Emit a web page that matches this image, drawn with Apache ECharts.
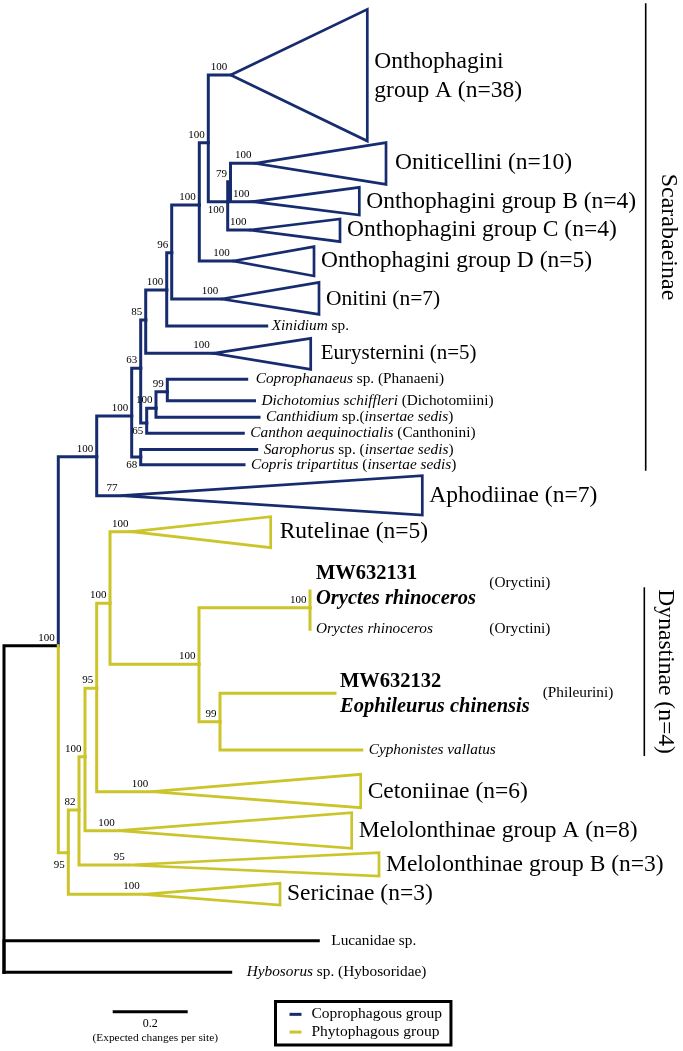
<!DOCTYPE html>
<html><head><meta charset="utf-8">
<script src="https://cdn.jsdelivr.net/npm/echarts@6/dist/echarts.min.js"></script>
<style>html,body{margin:0;padding:0;background:#fff}#c{width:683px;height:1051px}</style>
</head><body><div id="c"></div>
<script>
// ---------------- DATA ----------------
// tree nodes: index = position in each array
const nodeName = ['root','ingroup','Lucanidae sp.','Hybosorus sp.','Scarabaeinae+Aphodiinae','Scarabaeinae','Aphodiinae',
  'n63','n68','n85','n65','n100a','Eurysternini','n96','Xinidium sp.','n100b','Onitini','n100c','Onthophagini D',
  'Onthophagini A','n100d','n79','Onthophagini C','Oniticellini','Onthophagini B','n100e','Canthon aequinoctialis','n99',
  'Canthidium sp.','Coprophanaeus sp.','Dichotomius schiffleri','Sarophorus sp.','Copris tripartitus',
  'n95','n82','Sericinae','n100f','Melolonthinae B','n95b','Melolonthinae A','n100g','Cetoniinae','Rutelinae',
  'Dynastinae','Oryctes','n99b','MW632131','Oryctes rhinoceros','MW632132','Cyphonistes vallatus'];
const nodeParent = [-1,0,0,0,1,4,4, 5,5,7,7,9,9,11,11,13,13,15,15, 17,17,20,20,21,21,10,10,25, 25,27,27,8,8,
  1,33,33,34,34,36,36,38,38,40, 40,43,43,44,44,45,45];
// distance from root (expected changes per site)
const nodeDepth = [0,0.1448,0.8381,0.6045,0.2472,0.3405,0.312, 0.3645,0.3645,0.3779,0.3805,0.4339,0.5581,0.4472,0.7005,0.5208,0.5805,0.5448,0.6115,
  0.6045,0.5965,0.604,0.656,0.6693,0.664,0.4053,0.6381,0.4355, 0.68,0.6472,0.668,0.6739,0.64,
  0.1715,0.2,0.3715,0.216,0.3315,0.2472,0.3048,0.2827,0.3939,0.3413, 0.52,0.816,0.576,0.816,0.816,0.8827,0.9539];
// vertical tip position (rows)
const nodeY = [972.3,645.7,940.7,972.3,456.7,416,495.7, 368.3,457,320,423,290,353.3,252.7,326,205,299,142.7,261,
  75,201.7,181.7,230,163.3,201.7,408.3,433.3,391.7, 417.3,379.3,400.7,449.5,464.8,
  852.7,810,894.3,756.7,865,688.3,830.7,603.3,791.7,531.7, 664.3,607.7,721.7,591,629.3,693.3,750];
const nodeSupport = [null,100,null,null,100,100,77, 63,68,85,65,100,100,96,null,100,100,100,100,
  100,100,79,100,100,100,100,null,99, null,null,null,null,null,
  95,82,100,100,95,95,100,100,100,100, 100,100,99,null,null,null,null];
const nodeGroup = ['o','o','o','o','c','c','c', 'c','c','c','c','c','c','c','c','c','c','c','c',
  'c','c','c','c','c','c','c','c','c', 'c','c','c','c','c',
  'p','p','p','p','p','p','p','p','p','p', 'p','p','p','p','p','p','p'];
const supportBelow = [8,10,20,33];

// collapsed clades (triangles)
const cladeNode     = [6, 12, 16, 18, 19, 22, 23, 24, 35, 37, 39, 41, 42];
const cladeTipDepth = [1.1155,0.8179,0.84,0.8267,0.9688,0.896,1.0187,0.9475,0.736,1.0,0.9272,0.9512,0.7112];
const cladeTop      = [475.7,338.3,282.3,246.7,9.3,219,142.7,187.3,883.3,852.7,812.7,774.3,516.7];
const cladeBottom   = [515,369.3,314.3,276,141,241.7,184.3,215,905,876,848.3,807.7,547.7];

// tip labels
const tipNode = [19,23,24,22,18,16,14,12,29,30,28,26,31,32,6,42,46,47,48,49,41,39,37,35,2,3];
const tipText = ['Onthophagini\ngroup A (n=38)','Oniticellini (n=10)','Onthophagini group B (n=4)','Onthophagini group C (n=4)',
  'Onthophagini group D (n=5)','Onitini (n=7)','{i|Xinidium} sp.','Eurysternini (n=5)',
  '{i|Coprophanaeus} sp. (Phanaeni)','{i|Dichotomius schiffleri} (Dichotomiini)','{i|Canthidium} sp.({i|insertae sedis})',
  '{i|Canthon aequinoctialis} (Canthonini)','{i|Sarophorus} sp. ({i|insertae sedis})','{i|Copris tripartitus} ({i|insertae sedis})',
  'Aphodiinae (n=7)','Rutelinae (n=5)','{b|MW632131}\n{bi|Oryctes rhinoceros}','{i|Oryctes rhinoceros}',
  '{b|MW632132}\n{bi|Eophileurus chinensis}','{i|Cyphonistes vallatus}','Cetoniinae (n=6)',
  'Melolonthinae group A (n=8)','Melolonthinae group B (n=3)','Sericinae (n=3)','Lucanidae sp.','{i|Hybosorus} sp. (Hybosoridae)'];
const tribeNode = [46, 47, 48];
const tribeText = ['(Oryctini)', '(Oryctini)', '(Phileurini)'];

const bracketText = ['Scarabaeinae', 'Dynastinae (n=4)'];
const groupNames = ['Coprophagous group', 'Phytophagous group'];
const scaleLength = 0.2;
const scaleText = ['0.2', '(Expected changes per site)'];

// ---------------- STYLE / LAYOUT ----------------
const F = "'Liberation Serif','Times New Roman',serif";
const COLORS = {o: '#000000', c: '#172c6e', p: '#cbc52b'};
const BIG = 23.5, SMALL = 15.3, BOLD = 20.5;
const tipStyle = {
  16:{size:21.5}, 12:{size:21, gap:10}, 19:{lh:28.7, dy:1}, 23:{gap:9}, 42:{gap:9},
  14:{size:SMALL, gap:5}, 29:{size:SMALL, gap:9}, 30:{size:SMALL}, 28:{size:SMALL}, 26:{size:SMALL},
  31:{size:SMALL}, 32:{size:SMALL}, 47:{size:SMALL, gap:6}, 49:{size:SMALL},
  2:{size:SMALL, gap:13}, 3:{size:SMALL, gap:16},
  46:{size:BOLD, lh:25, dy:-5, gap:6}, 48:{size:BOLD, lh:24.4, dy:1, gap:5}
};
const tribeOffset = {46:[179.3,-8.3], 47:[179.3,0], 48:[207.7,-0.6]};
const bracketLayout = [{x:1.7112, top:3.3, bottom:470.7, dx:22.6, size:24},
                       {x:1.7075, top:587.3, bottom:756, dx:20.7, size:23.6}];
const scaleLayout = {x0:0.2899, y:1011.7};

function richFor(size, lh) {
  const base = {fontSize:size, fontFamily:F, fill:'#000'};
  if (lh) base.lineHeight = lh;
  return {
    i: Object.assign({}, base, {fontStyle:'italic'}),
    b: Object.assign({}, base, {fontWeight:'bold'}),
    bi: Object.assign({}, base, {fontWeight:'bold', fontStyle:'italic'})
  };
}
function textEl(x, y, text, size, opts) {
  opts = opts || {};
  const st = {text:text, fontSize:size, fontFamily:F, fill:'#000',
    align:opts.align || 'left', verticalAlign:'middle', rich:richFor(size, opts.lh)};
  if (opts.lh) st.lineHeight = opts.lh;
  return {type:'text', x:x, y:y, rotation:opts.rotation || 0, style:st, silent:true};
}

function renderNode(color) {
  return function (params, api) {
    const i = api.value(2);
    const p = nodeParent[i];
    const kids = [];
    const end = api.coord([nodeDepth[i], nodeY[i]]);
    if (p >= 0) {
      const a = api.coord([nodeDepth[p], nodeY[p]]);
      const b = api.coord([nodeDepth[p], nodeY[i]]);
      const pts = [a];
      if (Math.abs(b[1] - a[1]) > 0.01) pts.push(b);
      if (Math.abs(end[0] - b[0]) > 0.01) pts.push(end);
      if (pts.length > 1) kids.push({type:'polyline', shape:{points:pts},
        style:{stroke:color, lineWidth:3, fill:'none', lineCap:'square', lineJoin:'miter'}});
    }
    const ci = cladeNode.indexOf(i);
    let tipX = end[0];
    if (ci >= 0) {
      const t = api.coord([cladeTipDepth[ci], cladeTop[ci]]);
      const bt = api.coord([cladeTipDepth[ci], cladeBottom[ci]]);
      kids.push({type:'polygon', shape:{points:[end, t, bt]},
        style:{stroke:color, lineWidth:2.7, fill:'none', lineJoin:'miter'}});
      tipX = t[0];
    }
    if (nodeSupport[i] != null) {
      const dy = i === 33 ? 12 : (supportBelow.indexOf(i) >= 0 ? 8.5 : -8);
      kids.push(textEl(end[0] - 3.5, end[1] + dy, String(nodeSupport[i]), 11, {align:'right'}));
    }
    const ti = tipNode.indexOf(i);
    if (ti >= 0) {
      const s = tipStyle[i] || {};
      kids.push(textEl(tipX + (s.gap != null ? s.gap : 7), end[1] + (s.dy || 0), tipText[ti], s.size || BIG, {lh:s.lh}));
    }
    const ri = tribeNode.indexOf(i);
    if (ri >= 0) {
      const o = tribeOffset[i];
      kids.push(textEl(end[0] + o[0], end[1] + o[1], tribeText[ri], SMALL));
    }
    return {type:'group', children:kids};
  };
}

function nodeData(g) {
  const out = [];
  for (let i = 0; i < nodeName.length; i++) if (nodeGroup[i] === g) out.push([nodeDepth[i], nodeY[i], i]);
  return out;
}

function renderAnnot(params, api) {
  const kids = [];
  const s0 = api.coord([scaleLayout.x0, scaleLayout.y]);
  const s1 = api.coord([scaleLayout.x0 + scaleLength, scaleLayout.y]);
  kids.push({type:'line', shape:{x1:s0[0], y1:s0[1], x2:s1[0], y2:s1[1]}, style:{stroke:'#000', lineWidth:3}});
  const cx = (s0[0] + s1[0]) / 2;
  kids.push(textEl(cx, s0[1] + 12.5, scaleText[0], 12, {align:'center'}));
  kids.push(textEl(cx + 5, s0[1] + 26.8, scaleText[1], 11.4, {align:'center'}));
  bracketLayout.forEach(function (b, k) {
    const t = api.coord([b.x, b.top]);
    const bt = api.coord([b.x, b.bottom]);
    kids.push({type:'line', shape:{x1:t[0], y1:t[1], x2:bt[0], y2:bt[1]}, style:{stroke:'#000', lineWidth:1.6}});
    kids.push(textEl(t[0] + b.dx, (t[1] + bt[1]) / 2, bracketText[k], b.size, {align:'center', rotation:-Math.PI / 2}));
  });
  return {type:'group', children:kids};
}

const chart = echarts.init(document.getElementById('c'), null, {renderer:'canvas'});
chart.setOption({
  backgroundColor:'#ffffff',
  animation:false,
  grid:{left:0, right:0, top:0, bottom:0},
  xAxis:{type:'value', min:-4/375, max:679/375, show:false},
  yAxis:{type:'value', min:0, max:1051, inverse:true, show:false},
  legend:{
    show:true, orient:'vertical', left:275.5, top:1001.5,
    padding:[4, 9, 4, 14], itemGap:0, itemWidth:12, itemHeight:3,
    borderColor:'#000', borderWidth:3, backgroundColor:'#fff', selectedMode:false,
    textStyle:{fontFamily:F, fontSize:15.5, color:'#000', lineHeight:17.7, padding:[0,0,0,5]},
    data:[{name:groupNames[0], icon:'rect', itemStyle:{color:COLORS.c}},
          {name:groupNames[1], icon:'rect', itemStyle:{color:COLORS.p}}]
  },
  series:[
    {type:'custom', name:'Outgroups', silent:true, itemStyle:{color:COLORS.o},
     dimensions:['depth','y','node'], encode:{x:0, y:1}, data:nodeData('o'), renderItem:renderNode(COLORS.o)},
    {type:'custom', name:groupNames[0], silent:true, itemStyle:{color:COLORS.c},
     dimensions:['depth','y','node'], encode:{x:0, y:1}, data:nodeData('c'), renderItem:renderNode(COLORS.c)},
    {type:'custom', name:groupNames[1], silent:true, itemStyle:{color:COLORS.p},
     dimensions:['depth','y','node'], encode:{x:0, y:1}, data:nodeData('p'), renderItem:renderNode(COLORS.p)},
    {type:'custom', name:'annotations', silent:true, data:[[0, 0]], encode:{x:0, y:1}, renderItem:renderAnnot}
  ]
});
</script></body></html>
